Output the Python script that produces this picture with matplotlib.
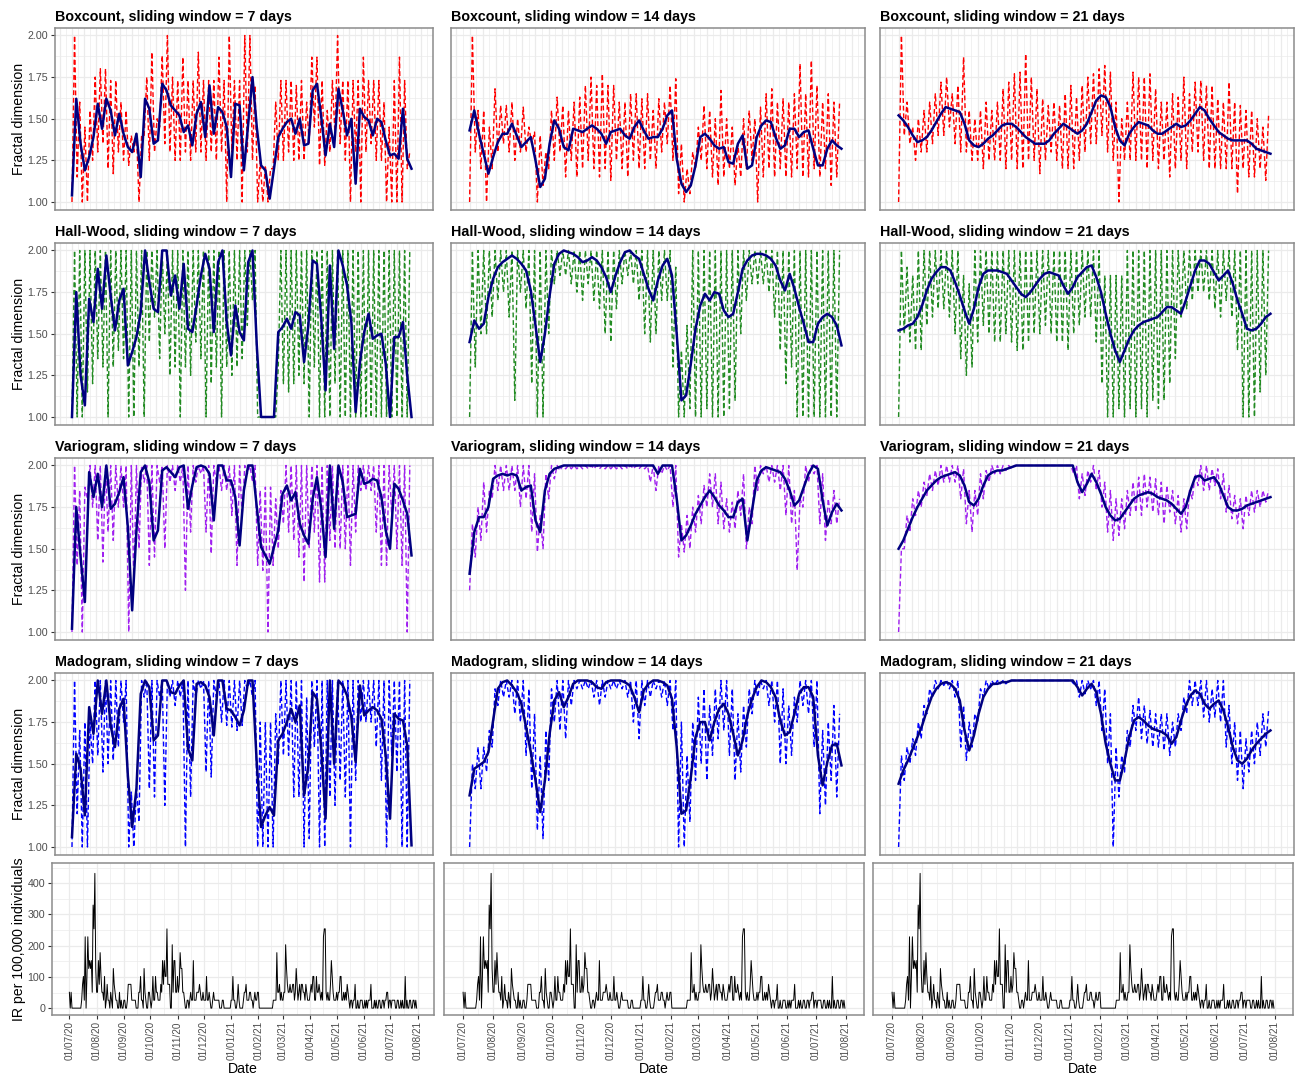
import numpy as np
import pandas as pd
import matplotlib
matplotlib.use('Agg')
import matplotlib.pyplot as plt
import matplotlib.dates as mdates

plt.rcParams['font.family'] = ['Liberation Sans', 'DejaVu Sans']

# ---------------- data ----------------
start_date = '2020-07-01'
methods = ['Boxcount', 'Hall-Wood', 'Variogram', 'Madogram']
windows = [7, 14, 21]
colors = {'Boxcount': '#ff0000', 'Hall-Wood': '#228b22',
          'Variogram': '#a020f0', 'Madogram': '#0000ff'}

# daily fractal dimension (dashed): low / high values, one pair every 6 days
box7_lo = [1.0, 1.15, 1.0, 1.0, 1.25, 1.3, 1.35, 1.2, 1.17, 1.3, 1.25,
           1.22, 1.3, 1.0, 1.4, 1.25, 1.3, 1.45, 1.35, 1.3, 1.25, 1.25,
           1.3, 1.25, 1.3, 1.3, 1.25, 1.3, 1.25, 1.3, 1.0, 1.3, 1.25,
           1.0, 1.3, 1.25, 1.0, 1.0, 1.0, 1.2, 1.25, 1.25, 1.3, 1.25,
           1.25, 1.25, 1.35, 1.45, 1.22, 1.22, 1.3, 1.4, 1.35, 1.25, 1.0,
           1.3, 1.0, 1.3, 1.35, 1.25, 1.25, 1.0, 1.0, 1.0, 1.0, 1.2]
box7_hi = [2.0, 1.6, 1.45, 1.55, 1.75, 1.8, 1.8, 1.73, 1.73, 1.6, 1.55,
           1.4, 1.42, 1.4, 1.75, 1.9, 1.5, 1.88, 2.0, 1.75, 1.73, 1.87,
           1.73, 1.73, 1.9, 1.73, 1.73, 1.73, 1.87, 1.73, 2.0, 1.73, 1.73,
           2.0, 2.0, 1.7, 1.25, 1.22, 1.2, 1.6, 1.73, 1.73, 1.73, 1.7,
           1.73, 1.6, 1.87, 1.87, 1.73, 1.55, 1.73, 2.0, 1.73, 1.73, 1.73,
           1.73, 1.87, 1.73, 1.73, 1.73, 1.6, 1.45, 1.73, 1.87, 1.73, 1.3]
box14_lo = [1.0, 1.3, 1.2, 1.0, 1.2, 1.3, 1.35, 1.3, 1.25, 1.3, 1.3,
            1.35, 1.0, 1.1, 1.2, 1.25, 1.3, 1.15, 1.25, 1.15, 1.2, 1.25,
            1.2, 1.15, 1.2, 1.13, 1.25, 1.2, 1.15, 1.25, 1.2, 1.2, 1.25,
            1.2, 1.3, 1.35, 1.25, 1.05, 1.0, 1.05, 1.2, 1.25, 1.2, 1.15,
            1.1, 1.15, 1.2, 1.1, 1.15, 1.2, 1.25, 1.0, 1.15, 1.2, 1.15,
            1.2, 1.15, 1.15, 1.2, 1.15, 1.15, 1.2, 1.15, 1.2, 1.1, 1.15]
box14_hi = [2.0, 1.55, 1.55, 1.45, 1.68, 1.58, 1.58, 1.6, 1.5, 1.57, 1.45,
            1.42, 1.4, 1.3, 1.55, 1.63, 1.58, 1.55, 1.6, 1.63, 1.7, 1.75,
            1.7, 1.77, 1.7, 1.7, 1.6, 1.6, 1.65, 1.65, 1.62, 1.65, 1.55,
            1.62, 1.6, 1.7, 1.74, 1.35, 1.2, 1.3, 1.45, 1.58, 1.55, 1.5,
            1.67, 1.5, 1.45, 1.35, 1.5, 1.55, 1.5, 1.57, 1.65, 1.68, 1.6,
            1.62, 1.6, 1.65, 1.83, 1.65, 1.85, 1.7, 1.6, 1.65, 1.6, 1.6]
box21_lo = [1.0, 1.4, 1.35, 1.25, 1.3, 1.3, 1.35, 1.4, 1.4, 1.45, 1.35,
            1.3, 1.3, 1.25, 1.25, 1.2, 1.25, 1.25, 1.25, 1.2, 1.25, 1.2,
            1.2, 1.25, 1.25, 1.17, 1.25, 1.3, 1.25, 1.2, 1.2, 1.2, 1.25,
            1.3, 1.35, 1.35, 1.4, 1.3, 1.25, 1.0, 1.25, 1.25, 1.25, 1.25,
            1.2, 1.25, 1.2, 1.25, 1.15, 1.2, 1.25, 1.2, 1.3, 1.3, 1.25,
            1.2, 1.2, 1.2, 1.2, 1.2, 1.05, 1.2, 1.15, 1.15, 1.2, 1.13]
box21_hi = [2.0, 1.6, 1.45, 1.5, 1.55, 1.6, 1.65, 1.72, 1.75, 1.65, 1.7,
            1.87, 1.55, 1.5, 1.55, 1.6, 1.55, 1.6, 1.68, 1.72, 1.77, 1.78,
            1.89, 1.75, 1.68, 1.62, 1.58, 1.6, 1.58, 1.65, 1.7, 1.63, 1.7,
            1.75, 1.77, 1.8, 1.82, 1.78, 1.6, 1.5, 1.6, 1.78, 1.75, 1.75,
            1.77, 1.68, 1.6, 1.6, 1.65, 1.63, 1.75, 1.65, 1.72, 1.73, 1.7,
            1.7, 1.62, 1.6, 1.72, 1.6, 1.58, 1.55, 1.55, 1.5, 1.45, 1.52]

hw7_lo = [1.0, 1.0, 1.0, 1.15, 1.2, 1.35, 1.3, 1.0, 1.3, 1.4, 1.35,
          1.0, 1.0, 1.3, 1.0, 1.45, 1.6, 1.35, 1.5, 1.25, 1.3, 1.0,
          1.3, 1.25, 1.45, 1.35, 1.0, 1.2, 1.3, 1.0, 1.3, 1.25, 1.3,
          1.35, 1.55, 1.7, 1.0, 1.0, 1.0, 1.0, 1.3, 1.2, 1.15, 1.2,
          1.25, 1.2, 1.0, 1.3, 1.0, 1.0, 1.0, 1.2, 1.0, 1.0, 1.0,
          1.0, 1.0, 1.0, 1.0, 1.0, 1.0, 1.0, 1.0, 1.0, 1.0, 1.0]
hw7_hi = [2.0, 2.0, 2.0, 2.0, 2.0, 2.0, 2.0, 2.0, 2.0, 2.0, 2.0,
          2.0, 2.0, 2.0, 2.0, 2.0, 2.0, 2.0, 2.0, 2.0, 2.0, 2.0,
          2.0, 2.0, 2.0, 2.0, 2.0, 2.0, 2.0, 2.0, 2.0, 2.0, 2.0,
          2.0, 2.0, 2.0, 1.0, 1.0, 1.0, 1.0, 2.0, 2.0, 2.0, 2.0,
          2.0, 2.0, 2.0, 2.0, 2.0, 2.0, 2.0, 2.0, 2.0, 2.0, 2.0,
          2.0, 2.0, 2.0, 2.0, 2.0, 2.0, 2.0, 2.0, 2.0, 2.0, 2.0]
hw14_lo = [1.0, 1.3, 1.5, 1.5, 1.6, 1.7, 1.75, 1.6, 1.1, 1.75, 1.65,
           1.2, 1.0, 1.0, 1.5, 1.8, 1.85, 1.85, 1.8, 1.75, 1.7, 1.8,
           1.7, 1.65, 1.5, 1.45, 1.65, 1.8, 1.85, 1.8, 1.7, 1.5, 1.45,
           1.5, 1.7, 1.7, 1.3, 1.0, 1.0, 1.05, 1.0, 1.0, 1.05, 1.0,
           1.0, 1.0, 1.05, 1.1, 1.5, 1.7, 1.8, 1.8, 1.8, 1.75, 1.6,
           1.4, 1.2, 1.3, 1.0, 1.0, 1.0, 1.0, 1.0, 1.0, 1.0, 1.0]
hw14_hi = [2.0, 2.0, 2.0, 2.0, 2.0, 2.0, 2.0, 2.0, 2.0, 2.0, 2.0,
           2.0, 2.0, 2.0, 2.0, 2.0, 2.0, 2.0, 2.0, 2.0, 2.0, 2.0,
           2.0, 2.0, 2.0, 2.0, 2.0, 2.0, 2.0, 2.0, 2.0, 2.0, 2.0,
           2.0, 2.0, 2.0, 1.9, 1.4, 1.55, 2.0, 2.0, 2.0, 2.0, 2.0,
           2.0, 2.0, 2.0, 2.0, 2.0, 2.0, 2.0, 2.0, 2.0, 2.0, 2.0,
           2.0, 2.0, 2.0, 2.0, 2.0, 2.0, 2.0, 2.0, 2.0, 2.0, 2.0]
hw21_lo = [1.0, 1.5, 1.45, 1.4, 1.4, 1.55, 1.6, 1.65, 1.65, 1.6, 1.5,
           1.35, 1.25, 1.3, 1.45, 1.55, 1.5, 1.45, 1.45, 1.5, 1.45, 1.4,
           1.4, 1.45, 1.5, 1.5, 1.55, 1.5, 1.45, 1.45, 1.4, 1.5, 1.55,
           1.6, 1.6, 1.45, 1.2, 1.0, 1.0, 1.05, 1.0, 1.05, 1.0, 1.05,
           1.0, 1.1, 1.05, 1.1, 1.2, 1.35, 1.6, 1.65, 1.7, 1.75, 1.75,
           1.7, 1.65, 1.6, 1.7, 1.6, 1.4, 1.0, 1.0, 1.0, 1.15, 1.25]
hw21_hi = [2.0, 1.9, 1.85, 2.0, 2.0, 2.0, 2.0, 2.0, 2.0, 2.0, 2.0,
           1.85, 1.8, 2.0, 2.0, 2.0, 2.0, 2.0, 2.0, 2.0, 2.0, 2.0,
           2.0, 2.0, 2.0, 2.0, 2.0, 2.0, 2.0, 2.0, 2.0, 2.0, 2.0,
           2.0, 2.0, 2.0, 1.85, 1.85, 1.85, 1.85, 2.0, 2.0, 2.0, 2.0,
           2.0, 2.0, 2.0, 2.0, 2.0, 2.0, 2.0, 2.0, 2.0, 2.0, 2.0,
           2.0, 2.0, 2.0, 2.0, 2.0, 2.0, 2.0, 2.0, 2.0, 2.0, 2.0]

v7_lo = [1.0, 1.4, 1.0, 1.8, 1.75, 1.55, 1.42, 1.6, 1.55, 1.75, 1.75,
         1.0, 1.3, 1.5, 1.9, 1.4, 1.45, 1.9, 1.5, 1.9, 1.85, 1.9,
         1.25, 1.6, 1.9, 1.95, 1.6, 1.47, 1.9, 1.85, 1.85, 1.7, 1.4,
         1.7, 1.95, 1.9, 1.4, 1.37, 1.0, 1.4, 1.5, 1.65, 1.6, 1.55,
         1.45, 1.3, 1.5, 1.6, 1.3, 1.3, 1.55, 1.5, 1.5, 1.5, 1.4,
         1.6, 1.85, 1.85, 1.85, 1.6, 1.4, 1.4, 1.7, 1.5, 1.4, 1.0]
v7_hi = [2.0, 1.85, 1.87, 2.0, 2.0, 2.0, 2.0, 2.0, 2.0, 2.0, 2.0,
         2.0, 2.0, 2.0, 2.0, 2.0, 2.0, 2.0, 2.0, 2.0, 2.0, 2.0,
         2.0, 2.0, 2.0, 2.0, 2.0, 2.0, 2.0, 2.0, 2.0, 2.0, 2.0,
         2.0, 2.0, 2.0, 1.85, 1.87, 1.87, 1.8, 1.85, 2.0, 2.0, 2.0,
         2.0, 2.0, 2.0, 2.0, 2.0, 2.0, 2.0, 2.0, 2.0, 2.0, 2.0,
         2.0, 2.0, 2.0, 2.0, 2.0, 2.0, 2.0, 2.0, 2.0, 2.0, 2.0]
v14_lo = [1.25, 1.45, 1.55, 1.6, 1.8, 1.85, 1.85, 1.85, 1.85, 1.75, 1.8,
          1.6, 1.48, 1.5, 1.8, 1.92, 1.97, 1.98, 1.98, 1.98, 1.98, 1.98,
          1.98, 1.98, 1.98, 1.98, 1.98, 1.98, 1.98, 1.98, 1.98, 1.98, 1.9,
          1.85, 1.95, 1.97, 1.75, 1.45, 1.48, 1.5, 1.6, 1.65, 1.75, 1.75,
          1.65, 1.62, 1.6, 1.62, 1.7, 1.5, 1.65, 1.85, 1.95, 1.9, 1.9,
          1.85, 1.7, 1.65, 1.37, 1.75, 1.9, 1.95, 1.65, 1.55, 1.65, 1.65]
v14_hi = [1.65, 1.75, 1.9, 1.85, 2.0, 2.0, 2.0, 2.0, 2.0, 2.0, 2.0,
          1.95, 1.7, 1.95, 2.0, 2.0, 2.0, 2.0, 2.0, 2.0, 2.0, 2.0,
          2.0, 2.0, 2.0, 2.0, 2.0, 2.0, 2.0, 2.0, 2.0, 2.0, 2.0,
          2.0, 2.0, 2.0, 2.0, 1.65, 1.7, 1.75, 1.82, 1.88, 1.95, 1.95,
          1.9, 1.8, 1.78, 1.85, 1.95, 1.75, 2.0, 2.0, 2.0, 2.0, 2.0,
          2.0, 2.0, 1.85, 1.8, 2.0, 2.0, 2.0, 1.95, 1.8, 1.85, 1.8]
v21_lo = [1.0, 1.5, 1.6, 1.7, 1.75, 1.82, 1.85, 1.88, 1.9, 1.9, 1.9,
          1.8, 1.65, 1.6, 1.7, 1.8, 1.9, 1.95, 1.95, 1.97, 1.98, 2.0,
          2.0, 2.0, 2.0, 2.0, 2.0, 2.0, 2.0, 2.0, 2.0, 1.95, 1.8,
          1.82, 1.9, 1.85, 1.75, 1.6, 1.55, 1.58, 1.62, 1.7, 1.72, 1.7,
          1.75, 1.72, 1.7, 1.65, 1.72, 1.65, 1.6, 1.62, 1.8, 1.88, 1.85,
          1.85, 1.88, 1.8, 1.72, 1.68, 1.65, 1.62, 1.7, 1.72, 1.75, 1.78]
v21_hi = [1.5, 1.7, 1.8, 1.85, 1.9, 1.95, 1.97, 2.0, 2.0, 2.0, 2.0,
          1.98, 1.85, 1.85, 1.95, 1.97, 2.0, 2.0, 2.0, 2.0, 2.0, 2.0,
          2.0, 2.0, 2.0, 2.0, 2.0, 2.0, 2.0, 2.0, 2.0, 2.0, 1.95,
          1.97, 2.0, 1.97, 1.9, 1.85, 1.8, 1.8, 1.85, 1.9, 1.93, 1.95,
          1.93, 1.92, 1.9, 1.88, 1.85, 1.82, 1.8, 1.85, 1.95, 2.0, 2.0,
          1.98, 1.98, 1.95, 1.88, 1.82, 1.8, 1.82, 1.85, 1.85, 1.85, 1.85]

m7_lo = [1.0, 1.2, 1.0, 1.0, 1.5, 1.55, 1.45, 1.5, 1.52, 1.6, 1.75,
         1.0, 1.0, 1.15, 1.9, 1.35, 1.3, 1.9, 1.25, 1.9, 1.85, 1.9,
         1.0, 1.3, 1.9, 1.95, 1.45, 1.42, 1.9, 1.75, 1.73, 1.72, 1.7,
         1.73, 1.95, 1.9, 1.0, 1.0, 1.0, 1.0, 1.5, 1.55, 1.55, 1.3,
         1.3, 1.0, 1.05, 1.6, 1.0, 1.0, 1.3, 1.25, 1.4, 1.3, 1.0,
         1.4, 1.75, 1.75, 1.75, 1.6, 1.4, 1.0, 1.55, 1.45, 1.0, 1.0]
m7_hi = [2.0, 1.7, 1.75, 1.75, 2.0, 2.0, 2.0, 2.0, 2.0, 2.0, 2.0,
         1.33, 1.35, 2.0, 2.0, 2.0, 2.0, 2.0, 2.0, 2.0, 2.0, 2.0,
         2.0, 2.0, 2.0, 2.0, 2.0, 2.0, 2.0, 2.0, 2.0, 2.0, 2.0,
         2.0, 2.0, 2.0, 1.75, 1.75, 1.75, 1.8, 2.0, 2.0, 2.0, 2.0,
         2.0, 1.9, 2.0, 2.0, 2.0, 2.0, 2.0, 2.0, 2.0, 2.0, 2.0,
         2.0, 2.0, 2.0, 2.0, 2.0, 2.0, 2.0, 2.0, 2.0, 2.0, 2.0]
m14_lo = [1.0, 1.35, 1.35, 1.45, 1.6, 1.85, 1.9, 1.9, 1.8, 1.75, 1.55,
          1.35, 1.1, 1.05, 1.4, 1.75, 1.7, 1.65, 1.85, 1.95, 1.95, 1.95,
          1.9, 1.85, 1.9, 1.95, 1.95, 1.95, 1.9, 1.75, 1.65, 1.85, 1.9,
          1.95, 1.9, 1.85, 1.7, 1.0, 1.0, 1.15, 1.4, 1.5, 1.4, 1.55,
          1.65, 1.7, 1.55, 1.4, 1.45, 1.6, 1.8, 1.9, 1.95, 1.85, 1.75,
          1.5, 1.5, 1.55, 1.75, 1.85, 1.8, 1.6, 1.2, 1.25, 1.4, 1.3]
m14_hi = [1.5, 1.6, 1.6, 1.7, 1.95, 2.0, 2.0, 2.0, 2.0, 2.0, 1.95,
          1.8, 1.55, 1.7, 1.95, 2.0, 2.0, 2.0, 2.0, 2.0, 2.0, 2.0,
          2.0, 2.0, 2.0, 2.0, 2.0, 2.0, 2.0, 2.0, 2.0, 2.0, 2.0,
          2.0, 2.0, 2.0, 2.0, 1.75, 1.55, 1.75, 1.9, 1.95, 1.85, 1.95,
          2.0, 2.0, 1.95, 1.8, 1.85, 1.95, 2.0, 2.0, 2.0, 2.0, 2.0,
          1.95, 1.85, 1.9, 2.0, 2.0, 2.0, 2.0, 1.7, 1.75, 1.85, 1.8]
m21_lo = [1.0, 1.4, 1.5, 1.55, 1.65, 1.8, 1.9, 1.95, 1.97, 1.95, 1.9,
          1.6, 1.52, 1.6, 1.75, 1.9, 1.95, 1.97, 1.98, 1.98, 2.0, 2.0,
          2.0, 2.0, 2.0, 2.0, 2.0, 2.0, 2.0, 2.0, 2.0, 1.98, 1.9,
          1.92, 1.95, 1.85, 1.7, 1.5, 1.0, 1.3, 1.45, 1.6, 1.7, 1.65,
          1.62, 1.6, 1.6, 1.58, 1.55, 1.6, 1.7, 1.8, 1.85, 1.85, 1.78,
          1.75, 1.78, 1.75, 1.6, 1.5, 1.4, 1.35, 1.45, 1.5, 1.55, 1.6]
m21_hi = [1.55, 1.6, 1.65, 1.75, 1.85, 1.95, 2.0, 2.0, 2.0, 2.0, 2.0,
          1.85, 1.75, 1.8, 1.95, 2.0, 2.0, 2.0, 2.0, 2.0, 2.0, 2.0,
          2.0, 2.0, 2.0, 2.0, 2.0, 2.0, 2.0, 2.0, 2.0, 2.0, 2.0,
          2.0, 2.0, 2.0, 1.95, 1.8, 1.6, 1.55, 1.7, 1.85, 1.9, 1.85,
          1.82, 1.8, 1.8, 1.8, 1.75, 1.8, 1.9, 2.0, 2.0, 2.0, 2.0,
          1.95, 2.0, 2.0, 1.85, 1.75, 1.7, 1.65, 1.7, 1.75, 1.8, 1.82]

# window summary (solid navy line), one value every 5 days
box7_mean = [1.04, 1.62, 1.35, 1.19, 1.27, 1.39, 1.59, 1.44, 1.62, 1.55,
             1.40, 1.53, 1.41, 1.33, 1.30, 1.41, 1.15, 1.62, 1.56, 1.35,
             1.37, 1.71, 1.67, 1.58, 1.55, 1.52, 1.42, 1.46, 1.34, 1.53,
             1.60, 1.39, 1.70, 1.41, 1.57, 1.54, 1.45, 1.15, 1.59, 1.58,
             1.19, 1.47, 1.75, 1.45, 1.22, 1.19, 1.02, 1.20, 1.39, 1.44,
             1.48, 1.50, 1.41, 1.50, 1.34, 1.35, 1.67, 1.71, 1.51, 1.28,
             1.47, 1.33, 1.68, 1.55, 1.40, 1.50, 1.11, 1.56, 1.51, 1.49,
             1.40, 1.50, 1.48, 1.37, 1.28, 1.29, 1.26, 1.56, 1.26, 1.20]
box14_mean = [1.43, 1.55, 1.41, 1.29, 1.17, 1.27, 1.36, 1.41, 1.41, 1.47,
              1.40, 1.33, 1.36, 1.39, 1.25, 1.09, 1.14, 1.35, 1.49, 1.44,
              1.33, 1.31, 1.44, 1.43, 1.42, 1.44, 1.46, 1.44, 1.41, 1.35,
              1.42, 1.43, 1.44, 1.40, 1.38, 1.45, 1.49, 1.43, 1.38, 1.39,
              1.39, 1.44, 1.52, 1.55, 1.26, 1.11, 1.06, 1.10, 1.22, 1.39,
              1.41, 1.38, 1.34, 1.32, 1.33, 1.24, 1.23, 1.35, 1.40, 1.20,
              1.22, 1.39, 1.46, 1.49, 1.48, 1.39, 1.32, 1.34, 1.44, 1.44,
              1.39, 1.42, 1.43, 1.32, 1.22, 1.22, 1.32, 1.37, 1.34, 1.32]
box21_mean = [1.52, 1.49, 1.45, 1.40, 1.36, 1.37, 1.39, 1.43, 1.48, 1.53,
              1.57, 1.56, 1.55, 1.54, 1.47, 1.37, 1.34, 1.33, 1.35, 1.38,
              1.40, 1.43, 1.46, 1.47, 1.47, 1.45, 1.42, 1.39, 1.37, 1.35,
              1.35, 1.35, 1.37, 1.41, 1.44, 1.47, 1.45, 1.43, 1.41, 1.43,
              1.47, 1.54, 1.61, 1.64, 1.63, 1.57, 1.45, 1.37, 1.34, 1.41,
              1.45, 1.48, 1.47, 1.46, 1.43, 1.41, 1.41, 1.43, 1.45, 1.47,
              1.45, 1.46, 1.49, 1.53, 1.57, 1.55, 1.50, 1.46, 1.42, 1.40,
              1.38, 1.37, 1.37, 1.37, 1.37, 1.35, 1.32, 1.31, 1.30, 1.29]
hw7_mean = [1.00, 1.75, 1.25, 1.07, 1.71, 1.57, 1.89, 1.65, 1.97, 1.73,
            1.52, 1.70, 1.77, 1.31, 1.39, 1.48, 1.63, 2.00, 1.81, 1.65,
            1.63, 2.00, 2.00, 1.73, 1.85, 1.65, 1.92, 1.53, 1.51, 1.67,
            1.85, 1.98, 1.89, 1.51, 1.93, 2.00, 1.57, 1.37, 1.67, 1.51,
            1.46, 1.93, 2.00, 1.43, 1.00, 1.00, 1.00, 1.00, 1.51, 1.54,
            1.59, 1.53, 1.63, 1.61, 1.33, 1.55, 1.94, 1.92, 1.59, 1.16,
            1.91, 1.41, 2.00, 1.91, 1.79, 1.57, 1.03, 1.33, 1.51, 1.62,
            1.47, 1.49, 1.50, 1.32, 1.00, 1.48, 1.48, 1.57, 1.25, 1.00]
hw14_mean = [1.45, 1.58, 1.53, 1.56, 1.72, 1.83, 1.90, 1.93, 1.95, 1.97,
             1.95, 1.92, 1.88, 1.76, 1.55, 1.33, 1.50, 1.73, 1.92, 1.98,
             2.00, 1.99, 1.98, 1.96, 1.93, 1.94, 1.96, 1.94, 1.90, 1.84,
             1.75, 1.85, 1.93, 1.99, 2.00, 1.97, 1.95, 1.86, 1.77, 1.70,
             1.82, 1.91, 1.95, 1.85, 1.50, 1.10, 1.13, 1.32, 1.53, 1.67,
             1.74, 1.70, 1.75, 1.74, 1.64, 1.60, 1.62, 1.75, 1.89, 1.94,
             1.97, 1.98, 1.98, 1.97, 1.95, 1.91, 1.82, 1.76, 1.86, 1.77,
             1.66, 1.56, 1.45, 1.45, 1.56, 1.60, 1.62, 1.60, 1.55, 1.43]
hw21_mean = [1.52, 1.53, 1.55, 1.56, 1.60, 1.67, 1.76, 1.83, 1.87, 1.90,
             1.90, 1.88, 1.81, 1.73, 1.64, 1.56, 1.65, 1.78, 1.86, 1.88,
             1.88, 1.88, 1.87, 1.86, 1.82, 1.78, 1.74, 1.72, 1.75, 1.79,
             1.83, 1.86, 1.87, 1.86, 1.85, 1.79, 1.74, 1.78, 1.84, 1.87,
             1.90, 1.91, 1.84, 1.75, 1.62, 1.50, 1.40, 1.33, 1.40, 1.47,
             1.52, 1.55, 1.57, 1.58, 1.59, 1.60, 1.63, 1.66, 1.66, 1.64,
             1.62, 1.70, 1.79, 1.88, 1.94, 1.94, 1.92, 1.87, 1.82, 1.85,
             1.88, 1.80, 1.70, 1.62, 1.53, 1.52, 1.53, 1.56, 1.60, 1.62]
v7_mean = [1.02, 1.75, 1.45, 1.18, 1.96, 1.81, 1.95, 1.75, 2.00, 1.74,
           1.77, 1.84, 1.93, 1.63, 1.13, 1.61, 1.96, 2.00, 1.90, 1.55,
           1.61, 1.97, 1.99, 1.96, 1.93, 1.99, 2.00, 1.74, 1.88, 1.99,
           2.00, 1.99, 1.95, 1.67, 2.00, 2.00, 1.91, 1.91, 1.81, 1.52,
           1.85, 2.00, 2.00, 1.75, 1.51, 1.46, 1.41, 1.51, 1.61, 1.83,
           1.88, 1.79, 1.84, 1.65, 1.58, 1.53, 1.80, 1.93, 1.74, 1.45,
           2.00, 1.62, 2.00, 1.90, 1.69, 1.70, 1.71, 1.98, 1.89, 1.90,
           1.92, 1.91, 1.81, 1.61, 1.50, 1.89, 1.86, 1.79, 1.71, 1.46]
v14_mean = [1.35, 1.60, 1.69, 1.69, 1.75, 1.92, 1.94, 1.95, 1.94, 1.95,
            1.94, 1.85, 1.87, 1.88, 1.67, 1.60, 1.85, 1.95, 1.98, 1.99,
            2.00, 2.00, 2.00, 2.00, 2.00, 2.00, 2.00, 2.00, 2.00, 2.00,
            2.00, 2.00, 2.00, 2.00, 2.00, 2.00, 2.00, 2.00, 2.00, 2.00,
            1.95, 2.00, 2.00, 2.00, 1.80, 1.55, 1.58, 1.64, 1.71, 1.76,
            1.81, 1.85, 1.81, 1.76, 1.73, 1.69, 1.69, 1.78, 1.80, 1.55,
            1.73, 1.91, 1.97, 1.99, 1.98, 1.97, 1.96, 1.92, 1.85, 1.76,
            1.79, 1.87, 1.95, 2.00, 1.98, 1.79, 1.64, 1.72, 1.77, 1.73]
v21_mean = [1.50, 1.55, 1.62, 1.69, 1.75, 1.80, 1.85, 1.88, 1.91, 1.93,
            1.94, 1.95, 1.96, 1.94, 1.88, 1.78, 1.76, 1.80, 1.88, 1.94,
            1.96, 1.97, 1.97, 1.98, 1.99, 2.00, 2.00, 2.00, 2.00, 2.00,
            2.00, 2.00, 2.00, 2.00, 2.00, 2.00, 2.00, 2.00, 1.90, 1.84,
            1.89, 1.95, 1.90, 1.83, 1.75, 1.70, 1.67, 1.68, 1.72, 1.76,
            1.80, 1.82, 1.83, 1.84, 1.83, 1.81, 1.80, 1.79, 1.77, 1.74,
            1.71, 1.75, 1.85, 1.93, 1.94, 1.91, 1.92, 1.93, 1.89, 1.82,
            1.75, 1.73, 1.73, 1.74, 1.76, 1.77, 1.78, 1.79, 1.80, 1.81]
m7_mean = [1.06, 1.56, 1.47, 1.19, 1.84, 1.68, 2.00, 1.80, 2.00, 1.73,
           1.60, 1.83, 1.89, 1.43, 1.12, 1.35, 1.92, 2.00, 1.96, 1.64,
           1.67, 2.00, 2.00, 1.93, 1.92, 1.97, 2.00, 1.59, 1.52, 1.98,
           1.99, 1.97, 1.90, 1.67, 2.00, 2.00, 1.83, 1.82, 1.78, 1.73,
           1.82, 2.00, 2.00, 1.50, 1.12, 1.19, 1.24, 1.19, 1.64, 1.68,
           1.75, 1.83, 1.75, 1.85, 1.31, 1.49, 1.93, 1.89, 1.59, 1.17,
           2.00, 1.50, 2.00, 1.97, 1.91, 1.78, 1.51, 1.97, 1.79, 1.82,
           1.84, 1.82, 1.77, 1.55, 1.17, 1.80, 1.77, 1.76, 1.61, 1.01]
m14_mean = [1.31, 1.47, 1.49, 1.51, 1.57, 1.76, 1.95, 1.99, 2.00, 1.97,
            1.93, 1.86, 1.72, 1.57, 1.40, 1.21, 1.40, 1.68, 1.88, 1.93,
            1.84, 1.90, 1.98, 2.00, 2.00, 2.00, 1.99, 1.96, 1.95, 1.99,
            2.00, 2.00, 2.00, 1.99, 1.97, 1.90, 1.81, 1.94, 1.98, 2.00,
            2.00, 1.99, 1.97, 1.89, 1.60, 1.20, 1.22, 1.42, 1.66, 1.75,
            1.75, 1.64, 1.75, 1.83, 1.86, 1.80, 1.68, 1.55, 1.64, 1.79,
            1.89, 1.96, 2.00, 1.99, 1.96, 1.90, 1.76, 1.67, 1.69, 1.80,
            1.92, 1.96, 1.96, 1.90, 1.55, 1.37, 1.51, 1.61, 1.62, 1.49]
m21_mean = [1.38, 1.46, 1.52, 1.59, 1.66, 1.73, 1.82, 1.90, 1.95, 1.98,
            1.99, 1.98, 1.95, 1.88, 1.70, 1.58, 1.67, 1.80, 1.90, 1.95,
            1.98, 1.98, 1.99, 1.99, 2.00, 2.00, 2.00, 2.00, 2.00, 2.00,
            2.00, 2.00, 2.00, 2.00, 2.00, 2.00, 2.00, 2.00, 1.96, 1.91,
            1.95, 1.98, 1.93, 1.80, 1.62, 1.50, 1.40, 1.40, 1.52, 1.66,
            1.76, 1.78, 1.76, 1.73, 1.71, 1.70, 1.69, 1.67, 1.62, 1.66,
            1.76, 1.85, 1.91, 1.94, 1.92, 1.86, 1.83, 1.86, 1.88, 1.82,
            1.72, 1.60, 1.52, 1.50, 1.53, 1.58, 1.62, 1.65, 1.68, 1.70]

# daily new cases (incidence rate = cases / population * 100,000)
population = 3937
daily_cases = [2, 0, 2, 0, 0, 0, 0, 0, 0, 0,
               0, 0, 0, 0, 1, 3, 4, 1, 9, 0,
               4, 9, 5, 6, 5, 6, 2, 13, 10, 17,
               5, 2, 2, 6, 3, 7, 4, 2, 2, 1,
               4, 0, 1, 3, 1, 1, 0, 2, 1, 0,
               5, 3, 2, 1, 1, 0, 0, 2, 0, 1,
               0, 0, 1, 1, 0, 0, 1, 3, 3, 3,
               3, 1, 1, 1, 1, 1, 0, 0, 0, 2,
               2, 4, 1, 1, 0, 5, 2, 1, 0, 0,
               2, 2, 1, 0, 1, 4, 1, 1, 4, 2,
               2, 1, 1, 1, 3, 2, 6, 3, 6, 4,
               4, 10, 3, 3, 3, 0, 0, 8, 2, 6,
               6, 2, 2, 4, 2, 3, 7, 5, 5, 2,
               2, 1, 0, 0, 1, 1, 0, 1, 2, 1,
               1, 6, 1, 1, 1, 2, 2, 2, 3, 2,
               1, 1, 2, 1, 1, 1, 4, 1, 1, 2,
               1, 0, 0, 1, 2, 1, 1, 1, 1, 1,
               1, 0, 0, 0, 1, 1, 0, 0, 0, 0,
               0, 0, 0, 0, 1, 1, 4, 1, 1, 0,
               0, 1, 3, 1, 0, 0, 0, 0, 1, 2,
               2, 3, 1, 1, 1, 2, 2, 1, 1, 0,
               1, 2, 1, 1, 2, 2, 0, 0, 0, 0,
               0, 0, 0, 0, 0, 0, 0, 0, 0, 0,
               0, 0, 1, 1, 1, 1, 7, 2, 2, 3,
               1, 2, 1, 1, 2, 2, 8, 5, 3, 2,
               2, 3, 2, 2, 3, 3, 1, 2, 5, 3,
               1, 2, 3, 1, 3, 3, 2, 2, 1, 3,
               2, 1, 1, 1, 2, 3, 2, 4, 4, 1,
               1, 4, 2, 2, 3, 2, 1, 2, 1, 9,
               10, 10, 2, 1, 2, 1, 1, 3, 6, 4,
               2, 1, 1, 1, 2, 1, 2, 2, 4, 4,
               1, 1, 2, 1, 2, 1, 3, 2, 1, 0,
               1, 1, 0, 1, 1, 3, 0, 0, 1, 0,
               0, 1, 1, 1, 0, 0, 1, 0, 1, 0,
               1, 1, 1, 3, 0, 0, 0, 1, 0, 1,
               0, 0, 1, 1, 0, 0, 1, 1, 0, 1,
               1, 2, 2, 0, 1, 1, 0, 1, 1, 1,
               1, 0, 0, 1, 1, 0, 0, 1, 0, 1,
               0, 0, 4, 0, 1, 0, 0, 1, 1, 0,
               0, 1, 1, 0, 1, 0]

raw = {
    ('Boxcount', 7): (box7_lo, box7_hi, box7_mean),
    ('Boxcount', 14): (box14_lo, box14_hi, box14_mean),
    ('Boxcount', 21): (box21_lo, box21_hi, box21_mean),
    ('Hall-Wood', 7): (hw7_lo, hw7_hi, hw7_mean),
    ('Hall-Wood', 14): (hw14_lo, hw14_hi, hw14_mean),
    ('Hall-Wood', 21): (hw21_lo, hw21_hi, hw21_mean),
    ('Variogram', 7): (v7_lo, v7_hi, v7_mean),
    ('Variogram', 14): (v14_lo, v14_hi, v14_mean),
    ('Variogram', 21): (v21_lo, v21_hi, v21_mean),
    ('Madogram', 7): (m7_lo, m7_hi, m7_mean),
    ('Madogram', 14): (m14_lo, m14_hi, m14_mean),
    ('Madogram', 21): (m21_lo, m21_hi, m21_mean),
}

# ---------------- layout ----------------
W, H = 1298, 1077
fig = plt.figure(figsize=(W / 100, H / 100), dpi=100)
fig.patch.set_facecolor('white')

base = mdates.date2num(np.datetime64(start_date))
xlim = (base - 19.75, base + 414.75)
month_starts = mdates.date2num(pd.date_range('2020-07-01', '2021-08-01', freq='MS').values)
mid_months = (month_starts[:-1] + month_starts[1:]) / 2

col_x = [(55, 433), (451, 865), (880, 1294)]
row_y = [(28 + 215 * r, 210 + 215 * r) for r in range(4)]
bottom_x = [(52, 434), (444, 864), (873, 1293)]
bottom_y = (863, 1015)

GRID = '#ebebeb'
TXT = '#4d4d4d'


def add_ax(x0, x1, y0, y1):
    return fig.add_axes([x0 / W, 1 - y1 / H, (x1 - x0) / W, (y1 - y0) / H])


def frame(ax):
    ax.set_facecolor('white')
    for s in ax.spines.values():
        s.set_color('#8c8c8c')
        s.set_linewidth(1.1)
    ax.set_axisbelow(True)
    ax.grid(which='major', color=GRID, lw=0.9)
    ax.grid(which='minor', color=GRID, lw=0.5)
    ax.tick_params(which='minor', length=0)


for r, method in enumerate(methods):
    for c, win in enumerate(windows):
        lo, hi, mean = raw[(method, win)]
        ax = add_ax(*col_x[c], *row_y[r])
        frame(ax)

        d6 = np.arange(len(lo)) * 6
        xs = np.empty(2 * len(lo))
        ys = np.empty(2 * len(lo))
        xs[0::2], xs[1::2] = d6, d6 + 3
        ys[0::2], ys[1::2] = lo, hi
        ax.plot(base + xs, ys, color=colors[method], lw=1.0,
                linestyle=(0, (3.5, 2.0)))
        ax.plot(base + np.arange(len(mean)) * 5, mean, color='#000080', lw=1.8)

        ax.set_xlim(*xlim)
        ax.set_ylim(0.952, 2.045)
        ax.set_xticks(base + np.arange(-14, 421, 14))
        ax.set_xticks(base + np.arange(-7, 421, 14), minor=True)
        ax.set_yticks([1.0, 1.25, 1.5, 1.75, 2.0])
        ax.set_yticks([1.125, 1.375, 1.625, 1.875], minor=True)
        ax.tick_params(axis='x', length=0, labelbottom=False)
        if c == 0:
            ax.set_yticklabels(['1.00', '1.25', '1.50', '1.75', '2.00'])
            ax.tick_params(axis='y', which='major', length=3, width=0.8,
                           color='#333333', labelsize=7.7, labelcolor=TXT, pad=2)
        else:
            ax.tick_params(axis='y', length=0, labelleft=False)
        ax.set_title(f'{method}, sliding window = {win} days', loc='left',
                     fontsize=10.3, fontweight='bold', pad=5)
    yc = 1 - (row_y[r][0] + row_y[r][1]) / 2 / H
    fig.text(19 / W, yc, 'Fractal dimension', rotation=90, ha='center',
             va='center', fontsize=10.2)

ir = np.array(daily_cases) / population * 100000
for c in range(3):
    ax = add_ax(*bottom_x[c], *bottom_y)
    frame(ax)
    ax.plot(base + np.arange(len(ir)), ir, color='black', lw=0.7)
    ax.set_xlim(*xlim)
    ax.set_ylim(-22, 465)
    ax.set_xticks(month_starts)
    ax.set_xticks(mid_months, minor=True)
    ax.xaxis.set_major_formatter(mdates.DateFormatter('%d/%m/%y'))
    ax.set_yticks([0, 100, 200, 300, 400])
    ax.set_yticks([50, 150, 250, 350, 450], minor=True)
    ax.tick_params(axis='x', which='major', length=3, width=0.8, color='#333333',
                   labelsize=7.2, labelcolor=TXT, labelrotation=90, pad=1.5)
    if c == 0:
        ax.tick_params(axis='y', which='major', length=3, width=0.8,
                       color='#333333', labelsize=7.7, labelcolor=TXT, pad=2)
    else:
        ax.tick_params(axis='y', length=0, labelleft=False)
    xc = (bottom_x[c][0] + bottom_x[c][1]) / 2 / W
    fig.text(xc, 1 - 1076 / H, 'Date', ha='center', va='bottom', fontsize=10.2)

fig.text(19 / W, 1 - (bottom_y[0] + bottom_y[1]) / 2 / H,
         'IR per 100,000 individuals', rotation=90, ha='center', va='center',
         fontsize=10.2)

fig.savefig('out.png', dpi=100, facecolor='white')
